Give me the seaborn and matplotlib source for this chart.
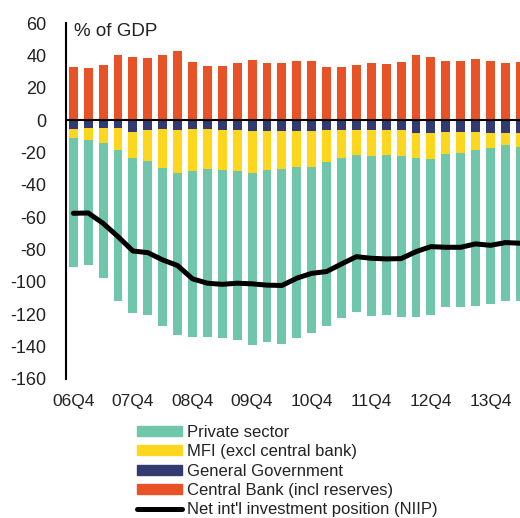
import numpy as np
import pandas as pd
import matplotlib
matplotlib.use("Agg")
import matplotlib.pyplot as plt
import seaborn as sns
from matplotlib.patches import Patch
from matplotlib.lines import Line2D

# quarters 06Q4 .. 14Q2
quarters = ["06Q4",
            "07Q1", "07Q2", "07Q3", "07Q4",
            "08Q1", "08Q2", "08Q3", "08Q4",
            "09Q1", "09Q2", "09Q3", "09Q4",
            "10Q1", "10Q2", "10Q3", "10Q4",
            "11Q1", "11Q2", "11Q3", "11Q4",
            "12Q1", "12Q2", "12Q3", "12Q4",
            "13Q1", "13Q2", "13Q3", "13Q4",
            "14Q1", "14Q2"]

# % of GDP
private = [-79.4, -76.9, -83.1, -93.6, -96.0, -94.9, -97.6, -100.6, -102.4, -104.0,
           -103.9, -104.7, -106.2, -106.5, -107.9, -105.4, -102.5, -101.3, -98.5, -97.3,
           -98.6, -98.8, -99.2, -97.9, -96.3, -94.4, -94.8, -96.1, -96.7, -96.1, -95.4]
mfi = [-5.3, -7.7, -9.1, -13.6, -15.9, -18.9, -23.8, -26.3, -25.7, -24.4,
       -24.5, -25.1, -25.7, -23.9, -23.4, -22.2, -22.0, -19.3, -17.1, -15.4,
       -16.0, -15.4, -16.0, -15.5, -16.1, -13.4, -13.0, -11.3, -9.3, -7.4, -8.7]
gen_gov = [-5.8, -4.9, -5.1, -4.9, -7.6, -6.4, -5.6, -6.2, -5.8, -5.8,
           -6.4, -6.4, -6.8, -7.0, -6.8, -6.8, -6.8, -6.4, -6.4, -6.2,
           -6.2, -6.2, -6.2, -8.0, -8.0, -7.6, -7.4, -7.2, -7.8, -8.0, -8.0]
central_bank = [32.9, 32.1, 34.0, 40.1, 38.9, 38.3, 40.1, 42.8, 36.0, 33.3,
                33.3, 35.2, 37.0, 35.2, 35.2, 36.4, 36.4, 32.9, 32.7, 34.0,
                35.2, 34.6, 36.0, 40.1, 39.1, 36.4, 36.4, 37.6, 36.4, 35.2, 35.8]
niip = [-57.6, -57.4, -63.8, -72.0, -80.9, -81.9, -86.4, -89.9, -98.1, -100.8,
        -101.5, -100.8, -101.2, -102.0, -102.2, -97.7, -94.7, -93.6, -88.9, -84.4,
        -85.4, -85.8, -85.6, -81.3, -78.2, -78.6, -78.6, -76.5, -77.4, -75.7, -76.1]

names = ["Private sector", "MFI (excl central bank)", "General Government",
         "Central Bank (incl reserves)", "Net int'l investment position (NIIP)"]
colors = ["#70C6AA", "#FDD71E", "#333A70", "#E75226"]

sns.set_theme(style="white")
plt.rcParams["font.family"] = ["Liberation Sans", "DejaVu Sans"]
plt.rcParams["axes.unicode_minus"] = False

df = pd.DataFrame({"pos": np.arange(len(quarters)), "quarter": quarters,
                   "private": private, "mfi": mfi, "gov": gen_gov,
                   "cb": central_bank, "niip": niip})
df["neg_total"] = df["gov"] + df["mfi"] + df["private"]
df["neg_mid"] = df["gov"] + df["mfi"]

fig = plt.figure(figsize=(5.2, 5.18), dpi=100)
ax = fig.add_axes([66 / 520, 1 - 379 / 518, 1 - 66 / 520, 356 / 518])

# stacked negatives drawn from zero, largest first
for col, c in [("neg_total", colors[0]), ("neg_mid", colors[1]), ("gov", colors[2]), ("cb", colors[3])]:
    sns.barplot(data=df, x="pos", y=col, color=c, width=0.6, saturation=1,
                linewidth=0, ax=ax, native_scale=True)

sns.lineplot(data=df, x="pos", y="niip", color="black", linewidth=3.6, ax=ax)
ax.axhline(0, color="black", linewidth=1.5)

ax.set_xlim(-0.49, 29.98)
ax.set_ylim(-160, 60)
ax.set_yticks(np.arange(-160, 61, 20))
ax.set_xticks(np.arange(0, len(quarters), 4))
ax.set_xticklabels(quarters[::4])
ax.tick_params(axis="both", length=0, labelsize=13, colors="#222222")
ax.tick_params(axis="y", pad=14)
ax.tick_params(axis="x", pad=11, labelsize=12.5)
ax.set_xlabel("")
ax.set_ylabel("")
for s in ["top", "right", "bottom"]:
    ax.spines[s].set_visible(False)
ax.spines["left"].set_color("black")
ax.spines["left"].set_linewidth(1.5)
ax.text(0.018, 0.975, "% of GDP", transform=ax.transAxes, fontsize=13.5,
        va="center", ha="left", color="#222222")

handles = [Patch(color=c) for c in colors] + [Line2D([0], [0], color="black", linewidth=3.6)]
fig.legend(handles, names, loc="upper left", bbox_to_anchor=(137 / 520, 1 - 425 / 518),
           frameon=False, fontsize=12, handlelength=2.7, handleheight=0.55,
           handletextpad=0.3, labelspacing=0.26, borderaxespad=0, borderpad=0,
           labelcolor="#222222")

fig.savefig("out.png", dpi=100)
